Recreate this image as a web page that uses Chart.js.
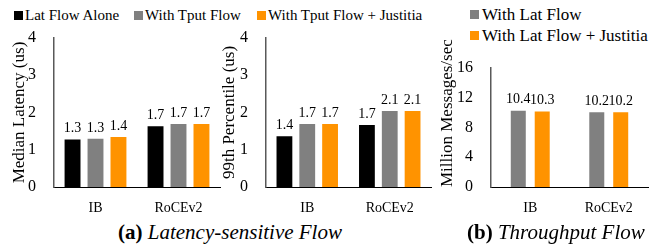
<!DOCTYPE html>
<html>
<head>
<meta charset="utf-8">
<script src="https://cdn.jsdelivr.net/npm/chart.js@4.4.1/dist/chart.umd.min.js"></script>
<style>
  html, body { margin: 0; padding: 0; background: #fff; }
  body { width: 651px; height: 246px; position: relative; overflow: hidden; font-family: "Liberation Serif", serif; color: #000; }
  .box { position: absolute; }
  .lg { position: absolute; font-size: 15px; line-height: 1; white-space: nowrap; }
  .lg2 { font-size: 17px; }
  .sq { position: absolute; width: 9px; height: 9px; }
  .cap { position: absolute; font-size: 21px; white-space: nowrap; line-height: 1; }
  .cap b { font-weight: bold; }
  .cap i { font-style: italic; }
</style>
</head>
<body>
<div class="sq" style="left:14px;top:11px;background:#000000"></div>
<div class="lg" style="left:25px;top:8px">Lat Flow Alone</div>
<div class="sq" style="left:134px;top:11px;background:#808080"></div>
<div class="lg" style="left:145px;top:8px">With Tput Flow</div>
<div class="sq" style="left:257px;top:11px;background:#FF9300"></div>
<div class="lg" style="left:268px;top:8px">With Tput Flow + Justitia</div>

<div class="sq" style="left:470px;top:10px;background:#808080"></div>
<div class="lg lg2" style="left:482px;top:6px">With Lat Flow</div>
<div class="sq" style="left:470px;top:31px;background:#FF9300"></div>
<div class="lg lg2" style="left:482px;top:27px">With Lat Flow + Justitia</div>

<div class="box" style="left:0px;top:0px;width:225px;height:215px"><canvas id="c1"></canvas></div>
<div class="box" style="left:215px;top:0px;width:220px;height:215px"><canvas id="c2"></canvas></div>
<div class="box" style="left:435px;top:0px;width:216px;height:215px"><canvas id="c3"></canvas></div>

<div class="cap" style="left:118px;top:222px"><b>(a)</b> <i>Latency-sensitive Flow</i></div>
<div class="cap" style="left:467px;top:222px"><b>(b)</b> <i>Throughput Flow</i></div>

<script>
// ---- data ----
const categories = ["IB", "RoCEv2"];
const medianLatAlone = [1.3, 1.66];
const medianWithTput = [1.32, 1.72];
const medianWithTputJustitia = [1.37, 1.72];
const p99LatAlone = [1.39, 1.69];
const p99WithTput = [1.72, 2.07];
const p99WithTputJustitia = [1.72, 2.07];
const tputWithLat = [10.4, 10.2];
const tputWithLatJustitia = [10.3, 10.2];
const latencyTicks = [0, 1, 2, 3, 4];
const tputTicks = [0, 4, 8, 12, 16];

const COL_BLACK = "#000000", COL_GRAY = "#808080", COL_ORANGE = "#FF9300";
const FONT = "Liberation Serif";

const valueLabels = {
  id: "valueLabels",
  afterDatasetsDraw(chart) {
    const ctx = chart.ctx;
    ctx.save();
    ctx.font = "14px '" + FONT + "'";
    ctx.fillStyle = "#000";
    ctx.textAlign = "center";
    ctx.textBaseline = "bottom";
    chart.data.datasets.forEach((ds, i) => {
      const meta = chart.getDatasetMeta(i);
      meta.data.forEach((el, j) => {
        ctx.fillText(Number(ds.data[j]).toFixed(1), el.x, el.y - 3);
      });
    });
    ctx.restore();
  }
};

function ds(label, data, color) {
  return { label, data, backgroundColor: color, borderColor: "rgba(255,255,255,0.35)", borderWidth: 1 };
}

function makeChart(id, datasets, ticks, title, opts) {
  const stepSize = ticks[1] - ticks[0];
  return new Chart(document.getElementById(id), {
    type: "bar",
    data: { labels: categories, datasets },
    plugins: [valueLabels],
    options: {
      responsive: true,
      maintainAspectRatio: false,
      animation: false,
      events: [],
      datasets: { bar: { categoryPercentage: opts.cat, barPercentage: opts.bar } },
      layout: { padding: { top: opts.top, right: opts.right, left: 0, bottom: 0 } },
      plugins: { legend: { display: false }, tooltip: { enabled: false } },
      scales: {
        x: {
          grid: { display: false, drawTicks: false },
          border: { display: true, color: "#000", width: 1 },
          ticks: { color: "#000", font: { family: FONT, size: 14 }, padding: 13 },
          afterFit: (s) => { s.height = 28; }
        },
        y: {
          min: ticks[0],
          max: ticks[ticks.length - 1],
          grid: { display: false, drawTicks: false },
          border: { display: true, color: "#595959", width: 1.5 },
          ticks: { stepSize, color: "#000", font: { family: FONT, size: 16 }, padding: 18 },
          title: { display: true, text: title, color: "#000", font: { family: FONT, size: 17 }, padding: { top: opts.tpad, bottom: 0 }, align: opts.talign || "center" },
          afterFit: (s) => { s.width = opts.yw; }
        }
      }
    }
  });
}

makeChart("c1", [
  ds("Lat Flow Alone", medianLatAlone, COL_BLACK),
  ds("With Tput Flow", medianWithTput, COL_GRAY),
  ds("With Tput Flow + Justitia", medianWithTputJustitia, COL_ORANGE)
], latencyTicks, "Median Latency (us)", { cat: 0.83, bar: 0.78, top: 38, right: 5, yw: 54, tpad: 9 });

makeChart("c2", [
  ds("Lat Flow Alone", p99LatAlone, COL_BLACK),
  ds("With Tput Flow", p99WithTput, COL_GRAY),
  ds("With Tput Flow + Justitia", p99WithTputJustitia, COL_ORANGE)
], latencyTicks, "99th Percentile (us)", { cat: 0.83, bar: 0.78, top: 38, right: 4, yw: 51, tpad: 4 });

makeChart("c3", [
  ds("With Lat Flow", tputWithLat, COL_GRAY),
  ds("With Lat Flow + Justitia", tputWithLatJustitia, COL_ORANGE)
], tputTicks, "Million Messages/sec", { cat: 0.61, bar: 0.71, top: 68, right: 3, yw: 56, tpad: 2, talign: "start" });
</script>
</body>
</html>
